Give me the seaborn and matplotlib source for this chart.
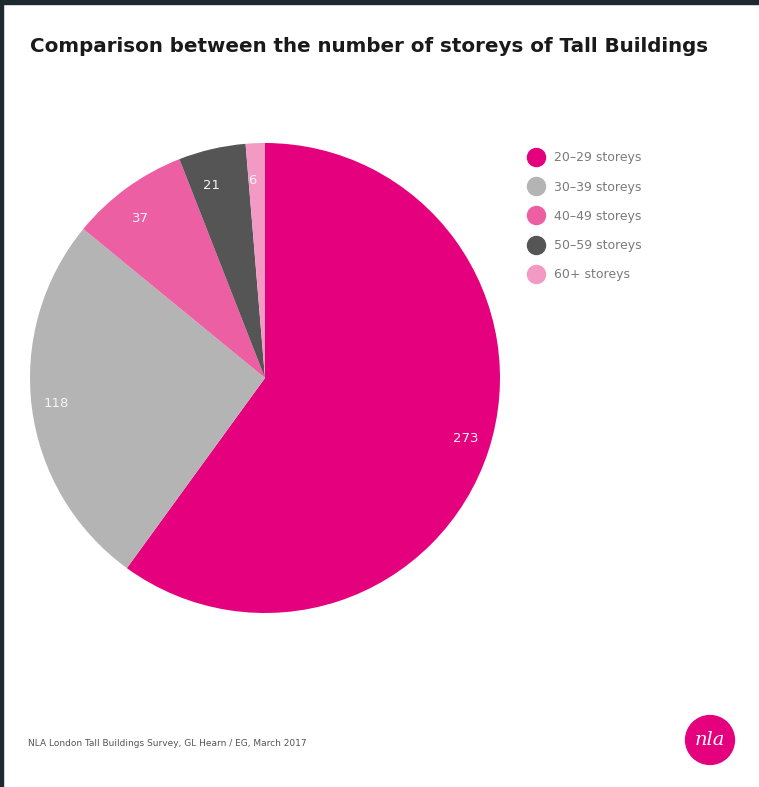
import numpy as np
import pandas as pd
import seaborn as sns
import matplotlib.pyplot as plt
from matplotlib.patches import Rectangle, Circle
from matplotlib.lines import Line2D

sns.set_theme(style="white")
plt.rcParams['font.family'] = ['DejaVu Sans']

# data
categories = ["20\u201329 storeys", "30\u201339 storeys", "40\u201349 storeys",
              "50\u201359 storeys", "60+ storeys"]
counts = [273, 118, 37, 21, 6]
colors = ["#e5007d", "#b4b4b4", "#ec5fa3", "#555555", "#f29ac3"]

df = pd.DataFrame({"storeys": categories, "count": counts})

W, H = 759, 787
fig = plt.figure(figsize=(W / 100, H / 100), dpi=100)
fig.patch.set_facecolor("white")

# pie axes, centre (265, 378) px, radius 235 px
cx, cy, r = 265, 378, 235
ax = fig.add_axes([(cx - r) / W, 1 - (cy + r) / H, 2 * r / W, 2 * r / H])
wedges, texts = ax.pie(df["count"], colors=colors, startangle=90,
                       counterclock=False, labels=[str(c) for c in df["count"]],
                       labeldistance=0.84,
                       textprops={"color": "#f4f4f4", "fontsize": 9.5},
                       wedgeprops={"linewidth": 0})
ax.set_xlim(-1, 1)
ax.set_ylim(-1, 1)
ax.set_aspect("equal")
ax.axis("off")

# legend
handles = [Line2D([], [], marker="o", linestyle="", markersize=13,
                  markerfacecolor=c, markeredgecolor=c) for c in colors]
fig.legend(handles, df["storeys"], loc="upper left",
           bbox_to_anchor=(517 / W, 1 - 140 / H), frameon=False,
           fontsize=9, labelcolor="#7a7a7a", handletextpad=0.9,
           labelspacing=1.3, handlelength=1.2)

# title and source
fig.text(30 / W, 1 - 47 / H, "Comparison between the number of storeys of Tall Buildings",
         fontsize=14.3, fontweight="bold", color="#1a1a1a", va="center")
fig.text(28 / W, 1 - 743 / H,
         "NLA London Tall Buildings Survey, GL Hearn / EG, March 2017",
         fontsize=6.5, color="#555555", va="center")

# logo
lax = fig.add_axes([(710 - 26) / W, 1 - (740 + 26) / H, 52 / W, 52 / H])
lax.add_patch(Circle((0.5, 0.5), 0.47, color="#e5007d"))
lax.text(0.5, 0.5, "nla", color="white", fontsize=14, style="italic",
         family=["DejaVu Serif"], ha="center", va="center")
lax.set_xlim(0, 1)
lax.set_ylim(0, 1)
lax.set_aspect("equal")
lax.axis("off")

# dark frame edges on the left and top
fig.patches.append(Rectangle((0, 0), 3 / W, 1, transform=fig.transFigure,
                             color="#1f2a30", zorder=10))
fig.patches.append(Rectangle((0, 1 - 4 / H), 1, 4 / H, transform=fig.transFigure,
                             color="#1f2a30", zorder=10))

fig.savefig("out.png", dpi=100)
